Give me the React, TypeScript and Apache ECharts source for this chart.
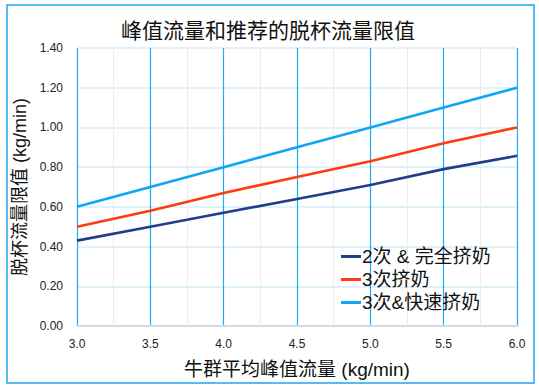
import React, { useEffect, useRef } from "react";
import * as echarts from "echarts";

const peakFlow = [3.0, 3.5, 4.0, 4.5, 5.0, 5.5, 6.0];
const twiceComplete = [0.43, 0.5, 0.57, 0.64, 0.71, 0.79, 0.857];
const thriceMilking = [0.5, 0.58, 0.67, 0.75, 0.83, 0.92, 1.0];
const thriceFast = [0.6, 0.7, 0.8, 0.9, 1.0, 1.1, 1.2];
const seriesNames = ["2次 & 完全挤奶", "3次挤奶", "3次&快速挤奶"];
const seriesColors = ["#1f3f8a", "#ff3b0f", "#12a4f7"];

const FONT = '"Liberation Sans", "Noto Sans CJK SC", sans-serif';

export default function App() {
  const ref = useRef<HTMLDivElement>(null);
  useEffect(() => {
    if (!ref.current) return;
    const chart = echarts.init(ref.current, undefined, { renderer: "svg" });
    const all = [twiceComplete, thriceMilking, thriceFast];
    chart.setOption({
      animation: false,
      backgroundColor: "#ffffff",
      title: {
        text: "峰值流量和推荐的脱杯流量限值",
        left: 263,
        textAlign: "center",
        top: 15,
        textStyle: { fontSize: 21, fontWeight: "normal", color: "#111", fontFamily: FONT },
      },
      graphic: [
        {
          type: "rect",
          shape: { x: 7, y: 5, width: 527, height: 378 },
          style: { fill: "none", stroke: "#1ea5f0", lineWidth: 1.5 },
          silent: true,
          z: 100,
        },
      ],
      grid: { left: 77, right: 22, top: 48, bottom: 65, containLabel: false },
      legend: {
        orient: "vertical",
        left: 336,
        top: 242,
        itemGap: 4,
        itemWidth: 20,
        itemHeight: 3,
        icon: "rect",
        data: seriesNames,
        textStyle: { fontSize: 19, color: "#111", fontFamily: FONT, padding: [0, 0, 0, -4] },
      },
      xAxis: {
        type: "value",
        min: 3,
        max: 6,
        interval: 0.5,
        name: "牛群平均峰值流量 (kg/min)",
        nameLocation: "middle",
        nameGap: 34,
        nameTextStyle: { fontSize: 19, color: "#111", fontFamily: FONT },
        axisLine: { show: true, lineStyle: { color: "#d9d9d9", width: 2 } },
        axisTick: { show: false },
        axisLabel: {
          fontSize: 12,
          color: "#222",
          fontFamily: FONT,
          margin: 12,
          formatter: (v: number) => v.toFixed(1),
        },
        splitLine: { show: true, lineStyle: { color: "#22a9f5", width: 1.2 } },
        minorTick: { show: false, splitNumber: 2 },
        minorSplitLine: { show: true, lineStyle: { color: "#ececec", width: 1 } },
      },
      yAxis: {
        type: "value",
        min: 0,
        max: 1.4,
        interval: 0.2,
        name: "脱杯流量限值 (kg/min)",
        nameLocation: "middle",
        nameGap: 44,
        nameTextStyle: { fontSize: 18, color: "#111", fontFamily: FONT },
        axisLine: { show: false },
        axisTick: { show: false },
        axisLabel: {
          fontSize: 12,
          color: "#222",
          fontFamily: FONT,
          margin: 14,
          formatter: (v: number) => v.toFixed(2),
        },
        splitLine: { show: true, lineStyle: { color: "#d6eefb", width: 1.5 } },
      },
      series: seriesNames.map((name, i) => ({
        name,
        type: "line",
        data: peakFlow.map((x, j) => [x, all[i][j]]),
        showSymbol: false,
        symbol: "none",
        color: seriesColors[i],
        lineStyle: { width: 2.6, color: seriesColors[i] },
        z: 3,
      })),
    });
    return () => chart.dispose();
  }, []);
  return (
    <div
      ref={ref}
      style={{ position: "fixed", left: 0, top: 0, width: 539, height: 391 }}
    />
  );
}
